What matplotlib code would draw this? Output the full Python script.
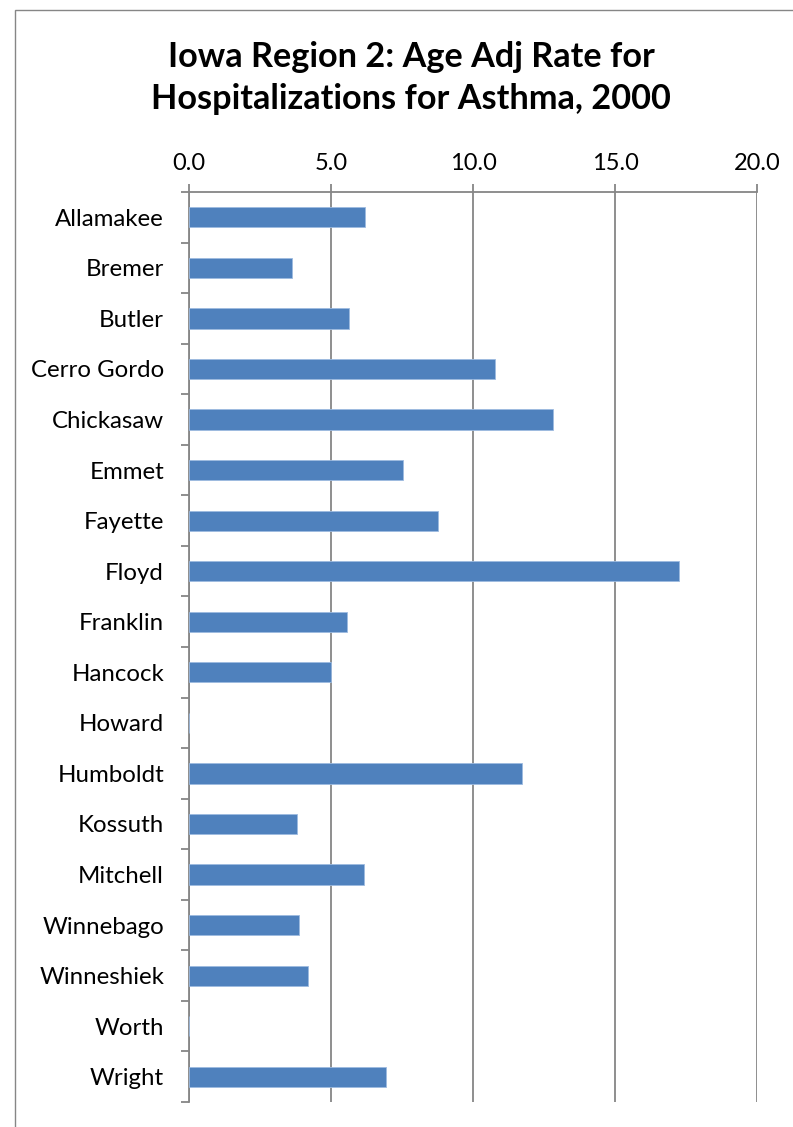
import matplotlib
matplotlib.use("Agg")
import matplotlib.pyplot as plt
from matplotlib.patches import Rectangle
import numpy as np

counties = ["Allamakee", "Bremer", "Butler", "Cerro Gordo", "Chickasaw", "Emmet",
            "Fayette", "Floyd", "Franklin", "Hancock", "Howard", "Humboldt",
            "Kossuth", "Mitchell", "Winnebago", "Winneshiek", "Worth", "Wright"]
rates = [6.19, 3.64, 5.65, 10.78, 12.82, 7.52,
         8.76, 17.25, 5.56, 4.99, 0.0, 11.74,
         3.81, 6.17, 3.87, 4.19, 0.0, 6.93]
xticks = [0, 5, 10, 15, 20]
xticklabels = ["0.0", "5.0", "10.0", "15.0", "20.0"]
title = "Iowa Region 2: Age Adj Rate for\nHospitalizations for Asthma, 2000"

plt.rcParams['font.family'] = ['Lato', 'DejaVu Sans']

fig = plt.figure(figsize=(7.93, 11.27), dpi=100)
# outer chart border
fig.patches.append(Rectangle((15/793, -0.01), 1.0, 1 - 10/1127 + 0.01,
                             transform=fig.transFigure, fill=False,
                             edgecolor='#868686', linewidth=1.0))

ax = fig.add_axes([189/793, 1 - 1102/1127, 568/793, 910/1127])
y = np.arange(len(counties))
ax.barh(y, rates, height=0.40, color='#4F81BD', edgecolor='#9DBBE0', linewidth=0.6, zorder=3)
ax.set_ylim(len(counties) - 0.5, -0.5)
ax.set_xlim(0, 20)

ax.xaxis.tick_top()
ax.set_xticks(xticks)
ax.set_xticklabels(xticklabels, fontsize=17)
ax.tick_params(axis='x', direction='out', length=6, color='#868686', width=1.3, pad=7)
ax.grid(axis='x', color='#868686', linewidth=1.3, zorder=0)

ax.set_yticks(y)
ax.set_yticklabels(counties, fontsize=17.3)
ax.set_yticks(np.arange(len(counties) + 1) - 0.5, minor=True)
ax.tick_params(axis='y', which='major', length=0, pad=18)
ax.tick_params(axis='y', which='minor', direction='out', length=6, color='#868686', width=1.3)

for s in ['right', 'bottom']:
    ax.spines[s].set_visible(False)
for s in ['left', 'top']:
    ax.spines[s].set_color('#868686')
    ax.spines[s].set_linewidth(1.3)

fig.text(411/793, 1 - 78/1127, title, ha='center', va='center', fontsize=24.7,
         fontweight='bold', linespacing=1.42)

fig.savefig("out.png", dpi=100)
